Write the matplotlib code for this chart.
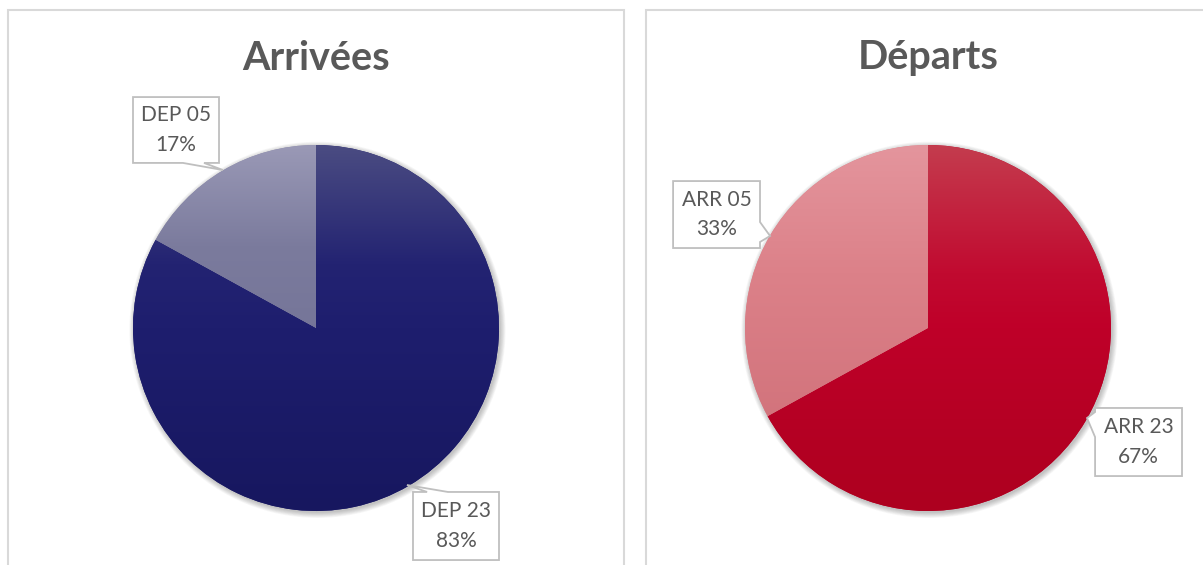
import numpy as np
import matplotlib
matplotlib.use("Agg")
import matplotlib.pyplot as plt
from matplotlib.patches import Rectangle, Polygon, Circle
from matplotlib.colors import to_rgb

# ---- data ----
titles = ["Arrivées", "Départs"]
arr_labels = ["DEP 23", "DEP 05"]
arr_values = [83, 17]
dep_labels = ["ARR 23", "ARR 05"]
dep_values = [67, 33]

plt.rcParams['font.family'] = ['Lato', 'DejaVu Sans']

W, H = 1203, 565
fig = plt.figure(figsize=(W / 100, H / 100), dpi=100)
R = 183          # pie radius in pixels
HALF = 1.6       # axes half-extent in data units
TXT = '#595959'
EDGE = '#bfbfbf'

# panel borders
for x0, x1 in [(8, 624), (645.5, 1215)]:
    fig.add_artist(Rectangle((x0 / W, -20 / H), (x1 - x0) / W, (H - 10 + 20) / H,
                             transform=fig.transFigure, fill=False,
                             edgecolor='#d9d9d9', lw=1.5))


def make_axes(cx, cy):
    size = 2 * HALF * R
    ax = fig.add_axes([(cx - size / 2) / W, ((H - cy) - size / 2) / H, size / W, size / H])
    return ax


def gradient(ax, wedge, stops):
    ys = np.linspace(1, -1, 400)
    sy = np.array([s[0] for s in stops])[::-1]
    cols = np.array([to_rgb(s[1]) for s in stops])[::-1]
    img = np.zeros((len(ys), 2, 3))
    for c in range(3):
        img[:, :, c] = np.interp(ys, sy, cols[:, c])[:, None]
    im = ax.imshow(img, extent=(-1, 1, -1, 1), aspect='auto',
                   interpolation='bilinear', zorder=3)
    im.set_clip_path(wedge)


def label(ax, box, tail, tip, side, text):
    (x0, y0), (x1, y1) = box
    b0, b1 = tail
    if side == 'bottom':
        verts = [(x0, y0), (b0, y0), tip, (b1, y0), (x1, y0), (x1, y1), (x0, y1)]
    elif side == 'top':
        verts = [(x0, y1), (b0, y1), tip, (b1, y1), (x1, y1), (x1, y0), (x0, y0)]
    elif side == 'right':
        verts = [(x1, y1), (x1, b0), tip, (x1, b1), (x1, y0), (x0, y0), (x0, y1)]
    else:  # left
        verts = [(x0, y1), (x0, b0), tip, (x0, b1), (x0, y0), (x1, y0), (x1, y1)]
    ax.add_patch(Polygon(verts, closed=True, facecolor='white', edgecolor=EDGE,
                         lw=1.3, zorder=5, joinstyle='miter'))
    ax.text((x0 + x1) / 2, (y0 + y1) / 2, text, ha='center', va='center',
            fontsize=15, color=TXT, linespacing=1.6, zorder=6)


def draw_pie(cx, cy, title, labels, values, grads, base_cols, lab_geo):
    ax = make_axes(cx, cy)
    # soft shadow
    for k in range(8):
        ax.add_patch(Circle((0.008, -0.010), 1.0 + 0.004 * k, color='black',
                            alpha=0.03, lw=0, zorder=1))
    wedges, _ = ax.pie(values, startangle=90, counterclock=False, radius=1,
                       colors=base_cols, wedgeprops=dict(lw=0, zorder=2))
    for w, st in zip(wedges, grads):
        gradient(ax, w, st)
    tot = sum(values)
    for lab, val, geo in zip(labels, values, lab_geo):
        box, tail, tip, side = geo
        label(ax, box, tail, tip, side, f"{lab}\n{round(100 * val / tot)}%")
    ax.set_xlim(-HALF, HALF)
    ax.set_ylim(-HALF, HALF)
    ax.set_aspect('equal')
    ax.axis('off')
    fig.text(cx / W, 1 - 58 / H, title, ha='center', va='center',
             fontsize=28.5, fontweight='bold', color=TXT)


# Arrivées
draw_pie(316, 328, titles[0], arr_labels, arr_values,
         grads=[[(1, '#4b4c82'), (0.35, '#232372'), (0, '#1e1e6e'), (-1, '#17175f')],
                [(1, '#9a99b6'), (0.45, '#7b7b9d'), (-1, '#6a6a90')]],
         base_cols=['#1e1e6e', '#8a89a8'],
         lab_geo=[(((0.530, -1.268), (1.0, -0.896)), (0.607, 0.721), (0.497, -0.858), 'top'),
                  (((-1.0, 0.902), (-0.530, 1.262)), (-0.727, -0.612), (-0.508, 0.863), 'bottom')])

# Départs
draw_pie(928, 328, titles[1], dep_labels, dep_values,
         grads=[[(1, '#c43c4e'), (0.3, '#c10a30'), (0, '#bf0029'), (-1, '#ad001f')],
                [(1, '#e4959d'), (0.3, '#dc8189'), (-1, '#cc6b74')]],
         base_cols=['#bf0029', '#dc8189'],
         lab_geo=[(((0.913, -0.809), (1.388, -0.437)), (-0.459, -0.596), (0.869, -0.492), 'left'),
                  (((-1.393, 0.437), (-0.918, 0.803)), (0.579, 0.470), (-0.863, 0.503), 'right')])

fig.savefig('out.png', dpi=100, facecolor='white')
